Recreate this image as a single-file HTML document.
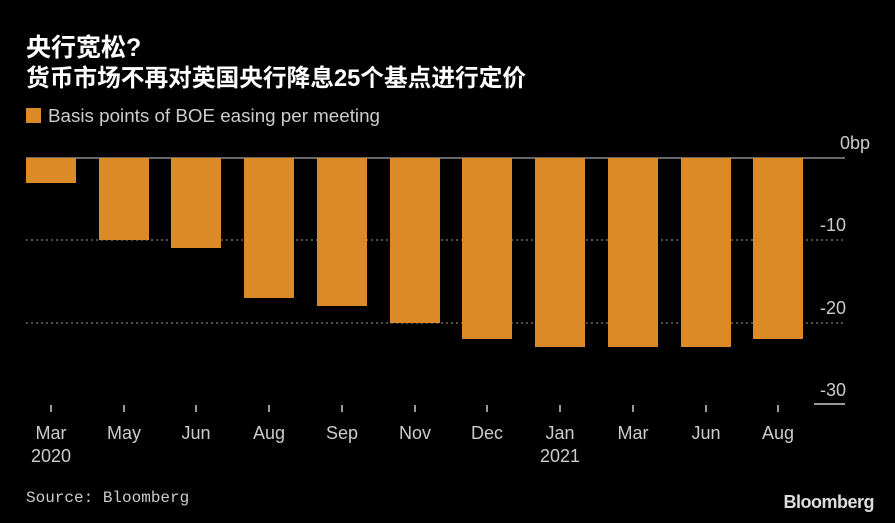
<!DOCTYPE html>
<html><head><meta charset="utf-8"><style>
body{margin:0;background:#000;}
svg text{font-family:"Liberation Sans","Noto Sans CJK SC",sans-serif;}
</style></head><body>
<svg width="895" height="523" xmlns="http://www.w3.org/2000/svg" style="display:block">
<rect width="895" height="523" fill="#000"/>
<text x="26" y="56" fill="#fff" font-size="25" font-weight="bold">央行宽松?</text>
<text x="26" y="86" fill="#fff" font-size="23.7" font-weight="bold">货币市场不再对英国央行降息25个基点进行定价</text>
<rect x="26" y="108" width="15" height="15" fill="#dc8a27"/>
<text x="48" y="122" fill="#ccc" font-size="18.8">Basis points of BOE easing per meeting</text>
<g stroke="#776655" stroke-width="1.5" stroke-dasharray="2,3">
<line x1="26" y1="240" x2="845" y2="240"/>
<line x1="26" y1="323" x2="845" y2="323"/>
</g>
<line x1="26" y1="158" x2="845" y2="158" stroke="#888" stroke-width="1.5"/>
<line x1="814" y1="404" x2="845" y2="404" stroke="#ccc" stroke-width="1.5"/>
<g fill="#dc8a27">
<rect x="26" y="158" width="50" height="25"/>
<rect x="99" y="158" width="50" height="82"/>
<rect x="171" y="158" width="50" height="90"/>
<rect x="244" y="158" width="50" height="140"/>
<rect x="317" y="158" width="50" height="148"/>
<rect x="390" y="158" width="50" height="165"/>
<rect x="462" y="158" width="50" height="181"/>
<rect x="535" y="158" width="50" height="189"/>
<rect x="608" y="158" width="50" height="189"/>
<rect x="681" y="158" width="50" height="189"/>
<rect x="753" y="158" width="50" height="181"/>
</g>
<g fill="#ccc" font-size="18" text-anchor="end">
<text x="870" y="149">0bp</text>
<text x="846" y="231">-10</text>
<text x="846" y="314">-20</text>
<text x="846" y="396">-30</text>
</g>
<g stroke="#ccc" stroke-width="1.5">
<line x1="51" y1="405" x2="51" y2="412"/><line x1="124" y1="405" x2="124" y2="412"/>
<line x1="196" y1="405" x2="196" y2="412"/><line x1="269" y1="405" x2="269" y2="412"/>
<line x1="342" y1="405" x2="342" y2="412"/><line x1="415" y1="405" x2="415" y2="412"/>
<line x1="487" y1="405" x2="487" y2="412"/><line x1="560" y1="405" x2="560" y2="412"/>
<line x1="633" y1="405" x2="633" y2="412"/><line x1="706" y1="405" x2="706" y2="412"/>
<line x1="778" y1="405" x2="778" y2="412"/>
</g>
<g fill="#ccc" font-size="18" text-anchor="middle">
<text x="51" y="439">Mar</text><text x="51" y="462">2020</text>
<text x="124" y="439">May</text><text x="196" y="439">Jun</text>
<text x="269" y="439">Aug</text><text x="342" y="439">Sep</text>
<text x="415" y="439">Nov</text><text x="487" y="439">Dec</text>
<text x="560" y="439">Jan</text><text x="560" y="462">2021</text>
<text x="633" y="439">Mar</text><text x="706" y="439">Jun</text>
<text x="778" y="439">Aug</text>
</g>
<text x="26" y="502" fill="#ccc" font-size="16" style="font-family:'Liberation Mono',monospace">Source: Bloomberg</text>
<text x="874" y="508" fill="#ddd" font-size="18" font-weight="bold" text-anchor="end" letter-spacing="-0.5">Bloomberg</text>
</svg>
</body></html>
